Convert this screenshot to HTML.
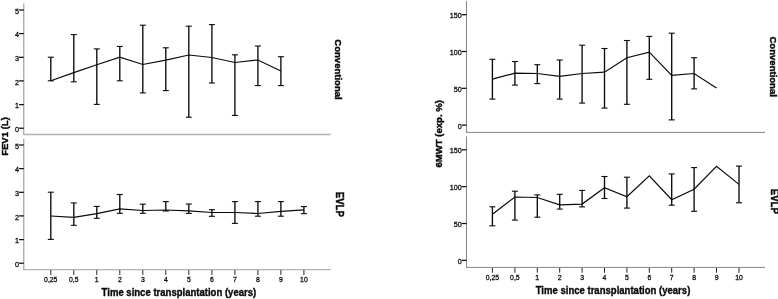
<!DOCTYPE html>
<html><head><meta charset="utf-8"><title>Figure</title>
<style>
html,body{margin:0;padding:0;background:#fff;}
body{width:778px;height:299px;overflow:hidden;font-family:"Liberation Sans",sans-serif;}
svg{display:block;will-change:transform;filter:grayscale(1);font-family:"Liberation Sans",sans-serif;}
</style></head><body>
<svg width="778" height="299" viewBox="0 0 778 299">
<rect width="778" height="299" fill="#fff"/>
<line x1="23.8" y1="3.5" x2="23.8" y2="134.5" stroke="#909090" stroke-width="1.0" />
<line x1="23.3" y1="134.5" x2="330.6" y2="134.5" stroke="#b2b2b2" stroke-width="1.3" />
<line x1="23.8" y1="138.7" x2="23.8" y2="269.6" stroke="#909090" stroke-width="1.0" />
<line x1="23.3" y1="269.6" x2="330.6" y2="269.6" stroke="#b2b2b2" stroke-width="1.3" />
<line x1="19.1" y1="128.2" x2="23.8" y2="128.2" stroke="#0a0a0a" stroke-width="1.25" />
<text transform="translate(19.1 131.9) scale(0.91 1.0)" font-size="7.9" text-anchor="end" stroke="#0a0a0a" stroke-width="0.3" fill="#0a0a0a">0</text>
<line x1="19.1" y1="263.2" x2="23.8" y2="263.2" stroke="#0a0a0a" stroke-width="1.25" />
<text transform="translate(19.1 266.9) scale(0.91 1.0)" font-size="7.9" text-anchor="end" stroke="#0a0a0a" stroke-width="0.3" fill="#0a0a0a">0</text>
<line x1="19.1" y1="104.6" x2="23.8" y2="104.6" stroke="#0a0a0a" stroke-width="1.25" />
<text transform="translate(19.1 108.26) scale(0.91 1.0)" font-size="7.9" text-anchor="end" stroke="#0a0a0a" stroke-width="0.3" fill="#0a0a0a">1</text>
<line x1="19.1" y1="239.6" x2="23.8" y2="239.6" stroke="#0a0a0a" stroke-width="1.25" />
<text transform="translate(19.1 243.26) scale(0.91 1.0)" font-size="7.9" text-anchor="end" stroke="#0a0a0a" stroke-width="0.3" fill="#0a0a0a">1</text>
<line x1="19.1" y1="80.9" x2="23.8" y2="80.9" stroke="#0a0a0a" stroke-width="1.25" />
<text transform="translate(19.1 84.62) scale(0.91 1.0)" font-size="7.9" text-anchor="end" stroke="#0a0a0a" stroke-width="0.3" fill="#0a0a0a">2</text>
<line x1="19.1" y1="215.9" x2="23.8" y2="215.9" stroke="#0a0a0a" stroke-width="1.25" />
<text transform="translate(19.1 219.62) scale(0.91 1.0)" font-size="7.9" text-anchor="end" stroke="#0a0a0a" stroke-width="0.3" fill="#0a0a0a">2</text>
<line x1="19.1" y1="57.3" x2="23.8" y2="57.3" stroke="#0a0a0a" stroke-width="1.25" />
<text transform="translate(19.1 60.98) scale(0.91 1.0)" font-size="7.9" text-anchor="end" stroke="#0a0a0a" stroke-width="0.3" fill="#0a0a0a">3</text>
<line x1="19.1" y1="192.3" x2="23.8" y2="192.3" stroke="#0a0a0a" stroke-width="1.25" />
<text transform="translate(19.1 195.98) scale(0.91 1.0)" font-size="7.9" text-anchor="end" stroke="#0a0a0a" stroke-width="0.3" fill="#0a0a0a">3</text>
<line x1="19.1" y1="33.6" x2="23.8" y2="33.6" stroke="#0a0a0a" stroke-width="1.25" />
<text transform="translate(19.1 37.34) scale(0.91 1.0)" font-size="7.9" text-anchor="end" stroke="#0a0a0a" stroke-width="0.3" fill="#0a0a0a">4</text>
<line x1="19.1" y1="168.6" x2="23.8" y2="168.6" stroke="#0a0a0a" stroke-width="1.25" />
<text transform="translate(19.1 172.34) scale(0.91 1.0)" font-size="7.9" text-anchor="end" stroke="#0a0a0a" stroke-width="0.3" fill="#0a0a0a">4</text>
<line x1="19.1" y1="10" x2="23.8" y2="10" stroke="#0a0a0a" stroke-width="1.25" />
<text transform="translate(19.1 13.7) scale(0.91 1.0)" font-size="7.9" text-anchor="end" stroke="#0a0a0a" stroke-width="0.3" fill="#0a0a0a">5</text>
<line x1="19.1" y1="145" x2="23.8" y2="145" stroke="#0a0a0a" stroke-width="1.25" />
<text transform="translate(19.1 148.7) scale(0.91 1.0)" font-size="7.9" text-anchor="end" stroke="#0a0a0a" stroke-width="0.3" fill="#0a0a0a">5</text>
<line x1="50.8" y1="270.1" x2="50.8" y2="274.9" stroke="#0a0a0a" stroke-width="0.9" />
<text transform="translate(50.75 282.4) scale(0.87 1.0)" font-size="7.9" text-anchor="middle" stroke="#0a0a0a" stroke-width="0.3" fill="#0a0a0a">0,25</text>
<line x1="73.8" y1="270.1" x2="73.8" y2="274.9" stroke="#0a0a0a" stroke-width="0.9" />
<text transform="translate(73.77 282.4) scale(0.87 1.0)" font-size="7.9" text-anchor="middle" stroke="#0a0a0a" stroke-width="0.3" fill="#0a0a0a">0,5</text>
<line x1="96.8" y1="270.1" x2="96.8" y2="274.9" stroke="#0a0a0a" stroke-width="0.9" />
<text transform="translate(96.78 282.4) scale(0.87 1.0)" font-size="7.9" text-anchor="middle" stroke="#0a0a0a" stroke-width="0.3" fill="#0a0a0a">1</text>
<line x1="119.8" y1="270.1" x2="119.8" y2="274.9" stroke="#0a0a0a" stroke-width="0.9" />
<text transform="translate(119.8 282.4) scale(0.87 1.0)" font-size="7.9" text-anchor="middle" stroke="#0a0a0a" stroke-width="0.3" fill="#0a0a0a">2</text>
<line x1="142.8" y1="270.1" x2="142.8" y2="274.9" stroke="#0a0a0a" stroke-width="0.9" />
<text transform="translate(142.81 282.4) scale(0.87 1.0)" font-size="7.9" text-anchor="middle" stroke="#0a0a0a" stroke-width="0.3" fill="#0a0a0a">3</text>
<line x1="165.8" y1="270.1" x2="165.8" y2="274.9" stroke="#0a0a0a" stroke-width="0.9" />
<text transform="translate(165.82 282.4) scale(0.87 1.0)" font-size="7.9" text-anchor="middle" stroke="#0a0a0a" stroke-width="0.3" fill="#0a0a0a">4</text>
<line x1="188.8" y1="270.1" x2="188.8" y2="274.9" stroke="#0a0a0a" stroke-width="0.9" />
<text transform="translate(188.84 282.4) scale(0.87 1.0)" font-size="7.9" text-anchor="middle" stroke="#0a0a0a" stroke-width="0.3" fill="#0a0a0a">5</text>
<line x1="211.9" y1="270.1" x2="211.9" y2="274.9" stroke="#0a0a0a" stroke-width="0.9" />
<text transform="translate(211.86 282.4) scale(0.87 1.0)" font-size="7.9" text-anchor="middle" stroke="#0a0a0a" stroke-width="0.3" fill="#0a0a0a">6</text>
<line x1="234.9" y1="270.1" x2="234.9" y2="274.9" stroke="#0a0a0a" stroke-width="0.9" />
<text transform="translate(234.87 282.4) scale(0.87 1.0)" font-size="7.9" text-anchor="middle" stroke="#0a0a0a" stroke-width="0.3" fill="#0a0a0a">7</text>
<line x1="257.9" y1="270.1" x2="257.9" y2="274.9" stroke="#0a0a0a" stroke-width="0.9" />
<text transform="translate(257.88 282.4) scale(0.87 1.0)" font-size="7.9" text-anchor="middle" stroke="#0a0a0a" stroke-width="0.3" fill="#0a0a0a">8</text>
<line x1="280.9" y1="270.1" x2="280.9" y2="274.9" stroke="#0a0a0a" stroke-width="0.9" />
<text transform="translate(280.9 282.4) scale(0.87 1.0)" font-size="7.9" text-anchor="middle" stroke="#0a0a0a" stroke-width="0.3" fill="#0a0a0a">9</text>
<line x1="303.9" y1="270.1" x2="303.9" y2="274.9" stroke="#0a0a0a" stroke-width="0.9" />
<text transform="translate(303.92 282.4) scale(0.87 1.0)" font-size="7.9" text-anchor="middle" stroke="#0a0a0a" stroke-width="0.3" fill="#0a0a0a">10</text>
<text transform="translate(178.9 295.8) scale(0.955 1.0)" font-size="10.0" text-anchor="middle" font-weight="bold" stroke="#0a0a0a" stroke-width="0.35" fill="#0a0a0a">Time since transplantation (years)</text>
<text transform="translate(8.4 136.5) rotate(-90) scale(0.955 0.95)" font-size="10.0" text-anchor="middle" font-weight="bold" stroke="#0a0a0a" stroke-width="0.45" fill="#0a0a0a">FEV1 (L)</text>
<text transform="translate(335.4 69.5) rotate(90) scale(0.955 0.95)" font-size="10.0" text-anchor="middle" font-weight="bold" stroke="#0a0a0a" stroke-width="0.45" fill="#0a0a0a">Conventional</text>
<text transform="translate(336.3 204.3) rotate(90) scale(0.965 1.0)" font-size="10.0" text-anchor="middle" font-weight="bold" stroke="#0a0a0a" stroke-width="0.45" fill="#0a0a0a">EVLP</text>
<line x1="50.8" y1="57.2" x2="50.8" y2="80.8" stroke="#0a0a0a" stroke-width="1.35" />
<line x1="47.8" y1="57.2" x2="53.8" y2="57.2" stroke="#0a0a0a" stroke-width="1.1" />
<line x1="47.8" y1="80.8" x2="53.8" y2="80.8" stroke="#0a0a0a" stroke-width="1.1" />
<line x1="73.8" y1="34.6" x2="73.8" y2="81.8" stroke="#0a0a0a" stroke-width="1.35" />
<line x1="70.8" y1="34.6" x2="76.8" y2="34.6" stroke="#0a0a0a" stroke-width="1.1" />
<line x1="70.8" y1="81.8" x2="76.8" y2="81.8" stroke="#0a0a0a" stroke-width="1.1" />
<line x1="96.8" y1="48.9" x2="96.8" y2="104.4" stroke="#0a0a0a" stroke-width="1.35" />
<line x1="93.8" y1="48.9" x2="99.8" y2="48.9" stroke="#0a0a0a" stroke-width="1.1" />
<line x1="93.8" y1="104.4" x2="99.8" y2="104.4" stroke="#0a0a0a" stroke-width="1.1" />
<line x1="119.8" y1="46.4" x2="119.8" y2="80.8" stroke="#0a0a0a" stroke-width="1.35" />
<line x1="116.8" y1="46.4" x2="122.8" y2="46.4" stroke="#0a0a0a" stroke-width="1.1" />
<line x1="116.8" y1="80.8" x2="122.8" y2="80.8" stroke="#0a0a0a" stroke-width="1.1" />
<line x1="142.8" y1="25.2" x2="142.8" y2="92.9" stroke="#0a0a0a" stroke-width="1.35" />
<line x1="139.8" y1="25.2" x2="145.8" y2="25.2" stroke="#0a0a0a" stroke-width="1.1" />
<line x1="139.8" y1="92.9" x2="145.8" y2="92.9" stroke="#0a0a0a" stroke-width="1.1" />
<line x1="165.8" y1="47.8" x2="165.8" y2="90.6" stroke="#0a0a0a" stroke-width="1.35" />
<line x1="162.8" y1="47.8" x2="168.8" y2="47.8" stroke="#0a0a0a" stroke-width="1.1" />
<line x1="162.8" y1="90.6" x2="168.8" y2="90.6" stroke="#0a0a0a" stroke-width="1.1" />
<line x1="188.8" y1="26.2" x2="188.8" y2="117.2" stroke="#0a0a0a" stroke-width="1.35" />
<line x1="185.8" y1="26.2" x2="191.8" y2="26.2" stroke="#0a0a0a" stroke-width="1.1" />
<line x1="185.8" y1="117.2" x2="191.8" y2="117.2" stroke="#0a0a0a" stroke-width="1.1" />
<line x1="211.9" y1="24.6" x2="211.9" y2="83" stroke="#0a0a0a" stroke-width="1.35" />
<line x1="208.9" y1="24.6" x2="214.9" y2="24.6" stroke="#0a0a0a" stroke-width="1.1" />
<line x1="208.9" y1="83" x2="214.9" y2="83" stroke="#0a0a0a" stroke-width="1.1" />
<line x1="234.9" y1="54.8" x2="234.9" y2="115.4" stroke="#0a0a0a" stroke-width="1.35" />
<line x1="231.9" y1="54.8" x2="237.9" y2="54.8" stroke="#0a0a0a" stroke-width="1.1" />
<line x1="231.9" y1="115.4" x2="237.9" y2="115.4" stroke="#0a0a0a" stroke-width="1.1" />
<line x1="257.9" y1="46" x2="257.9" y2="85.6" stroke="#0a0a0a" stroke-width="1.35" />
<line x1="254.9" y1="46" x2="260.9" y2="46" stroke="#0a0a0a" stroke-width="1.1" />
<line x1="254.9" y1="85.6" x2="260.9" y2="85.6" stroke="#0a0a0a" stroke-width="1.1" />
<line x1="280.9" y1="56.7" x2="280.9" y2="85.6" stroke="#0a0a0a" stroke-width="1.35" />
<line x1="277.9" y1="56.7" x2="283.9" y2="56.7" stroke="#0a0a0a" stroke-width="1.1" />
<line x1="277.9" y1="85.6" x2="283.9" y2="85.6" stroke="#0a0a0a" stroke-width="1.1" />
<polyline points="50.8,80.8 73.8,72.6 96.8,64.7 119.8,57.2 142.8,64.5 165.8,60.2 188.8,55 211.9,57.5 234.9,62.5 257.9,60 280.9,71" fill="none" stroke="#0a0a0a" stroke-width="1.2" stroke-linejoin="miter"/>
<line x1="50.8" y1="192.2" x2="50.8" y2="239.4" stroke="#0a0a0a" stroke-width="1.35" />
<line x1="47.8" y1="192.2" x2="53.8" y2="192.2" stroke="#0a0a0a" stroke-width="1.1" />
<line x1="47.8" y1="239.4" x2="53.8" y2="239.4" stroke="#0a0a0a" stroke-width="1.1" />
<line x1="73.8" y1="202.9" x2="73.8" y2="225.3" stroke="#0a0a0a" stroke-width="1.35" />
<line x1="70.8" y1="202.9" x2="76.8" y2="202.9" stroke="#0a0a0a" stroke-width="1.1" />
<line x1="70.8" y1="225.3" x2="76.8" y2="225.3" stroke="#0a0a0a" stroke-width="1.1" />
<line x1="96.8" y1="206.4" x2="96.8" y2="218.3" stroke="#0a0a0a" stroke-width="1.35" />
<line x1="93.8" y1="206.4" x2="99.8" y2="206.4" stroke="#0a0a0a" stroke-width="1.1" />
<line x1="93.8" y1="218.3" x2="99.8" y2="218.3" stroke="#0a0a0a" stroke-width="1.1" />
<line x1="119.8" y1="194.5" x2="119.8" y2="213.3" stroke="#0a0a0a" stroke-width="1.35" />
<line x1="116.8" y1="194.5" x2="122.8" y2="194.5" stroke="#0a0a0a" stroke-width="1.1" />
<line x1="116.8" y1="213.3" x2="122.8" y2="213.3" stroke="#0a0a0a" stroke-width="1.1" />
<line x1="142.8" y1="204.2" x2="142.8" y2="213.3" stroke="#0a0a0a" stroke-width="1.35" />
<line x1="139.8" y1="204.2" x2="145.8" y2="204.2" stroke="#0a0a0a" stroke-width="1.1" />
<line x1="139.8" y1="213.3" x2="145.8" y2="213.3" stroke="#0a0a0a" stroke-width="1.1" />
<line x1="165.8" y1="201.6" x2="165.8" y2="211" stroke="#0a0a0a" stroke-width="1.35" />
<line x1="162.8" y1="201.6" x2="168.8" y2="201.6" stroke="#0a0a0a" stroke-width="1.1" />
<line x1="162.8" y1="211" x2="168.8" y2="211" stroke="#0a0a0a" stroke-width="1.1" />
<line x1="188.8" y1="204" x2="188.8" y2="213.4" stroke="#0a0a0a" stroke-width="1.35" />
<line x1="185.8" y1="204" x2="191.8" y2="204" stroke="#0a0a0a" stroke-width="1.1" />
<line x1="185.8" y1="213.4" x2="191.8" y2="213.4" stroke="#0a0a0a" stroke-width="1.1" />
<line x1="211.9" y1="209.7" x2="211.9" y2="216.3" stroke="#0a0a0a" stroke-width="1.35" />
<line x1="208.9" y1="209.7" x2="214.9" y2="209.7" stroke="#0a0a0a" stroke-width="1.1" />
<line x1="208.9" y1="216.3" x2="214.9" y2="216.3" stroke="#0a0a0a" stroke-width="1.1" />
<line x1="234.9" y1="201.6" x2="234.9" y2="223.4" stroke="#0a0a0a" stroke-width="1.35" />
<line x1="231.9" y1="201.6" x2="237.9" y2="201.6" stroke="#0a0a0a" stroke-width="1.1" />
<line x1="231.9" y1="223.4" x2="237.9" y2="223.4" stroke="#0a0a0a" stroke-width="1.1" />
<line x1="257.9" y1="201.6" x2="257.9" y2="216.2" stroke="#0a0a0a" stroke-width="1.35" />
<line x1="254.9" y1="201.6" x2="260.9" y2="201.6" stroke="#0a0a0a" stroke-width="1.1" />
<line x1="254.9" y1="216.2" x2="260.9" y2="216.2" stroke="#0a0a0a" stroke-width="1.1" />
<line x1="280.9" y1="201.6" x2="280.9" y2="216.2" stroke="#0a0a0a" stroke-width="1.35" />
<line x1="277.9" y1="201.6" x2="283.9" y2="201.6" stroke="#0a0a0a" stroke-width="1.1" />
<line x1="277.9" y1="216.2" x2="283.9" y2="216.2" stroke="#0a0a0a" stroke-width="1.1" />
<line x1="303.9" y1="206.6" x2="303.9" y2="213.6" stroke="#0a0a0a" stroke-width="1.35" />
<line x1="300.9" y1="206.6" x2="306.9" y2="206.6" stroke="#0a0a0a" stroke-width="1.1" />
<line x1="300.9" y1="213.6" x2="306.9" y2="213.6" stroke="#0a0a0a" stroke-width="1.1" />
<polyline points="50.8,216 73.8,217.3 96.8,213.6 119.8,208.8 142.8,210.5 165.8,210 188.8,210.9 211.9,212.5 234.9,212.5 257.9,213.5 280.9,211.4 303.9,209.9" fill="none" stroke="#0a0a0a" stroke-width="1.2" stroke-linejoin="miter"/>
<line x1="466.5" y1="1" x2="466.5" y2="132.4" stroke="#858585" stroke-width="1.0" />
<line x1="466" y1="132.4" x2="765" y2="132.4" stroke="#858585" stroke-width="1.0" />
<line x1="466.5" y1="136.4" x2="466.5" y2="267.4" stroke="#858585" stroke-width="1.0" />
<line x1="466" y1="267.4" x2="765" y2="267.4" stroke="#858585" stroke-width="1.0" />
<line x1="461.8" y1="125.1" x2="466.5" y2="125.1" stroke="#0a0a0a" stroke-width="1.25" />
<text transform="translate(461.8 128.8) scale(0.91 1.0)" font-size="7.9" text-anchor="end" stroke="#0a0a0a" stroke-width="0.3" fill="#0a0a0a">0</text>
<line x1="461.8" y1="260.3" x2="466.5" y2="260.3" stroke="#0a0a0a" stroke-width="1.25" />
<text transform="translate(461.8 264) scale(0.91 1.0)" font-size="7.9" text-anchor="end" stroke="#0a0a0a" stroke-width="0.3" fill="#0a0a0a">0</text>
<line x1="461.8" y1="88.3" x2="466.5" y2="88.3" stroke="#0a0a0a" stroke-width="1.25" />
<text transform="translate(461.8 92) scale(0.91 1.0)" font-size="7.9" text-anchor="end" stroke="#0a0a0a" stroke-width="0.3" fill="#0a0a0a">50</text>
<line x1="461.8" y1="223.5" x2="466.5" y2="223.5" stroke="#0a0a0a" stroke-width="1.25" />
<text transform="translate(461.8 227.15) scale(0.91 1.0)" font-size="7.9" text-anchor="end" stroke="#0a0a0a" stroke-width="0.3" fill="#0a0a0a">50</text>
<line x1="461.8" y1="51.5" x2="466.5" y2="51.5" stroke="#0a0a0a" stroke-width="1.25" />
<text transform="translate(461.8 55.2) scale(0.91 1.0)" font-size="7.9" text-anchor="end" stroke="#0a0a0a" stroke-width="0.3" fill="#0a0a0a">100</text>
<line x1="461.8" y1="186.6" x2="466.5" y2="186.6" stroke="#0a0a0a" stroke-width="1.25" />
<text transform="translate(461.8 190.3) scale(0.91 1.0)" font-size="7.9" text-anchor="end" stroke="#0a0a0a" stroke-width="0.3" fill="#0a0a0a">100</text>
<line x1="461.8" y1="14.7" x2="466.5" y2="14.7" stroke="#0a0a0a" stroke-width="1.25" />
<text transform="translate(461.8 18.4) scale(0.91 1.0)" font-size="7.9" text-anchor="end" stroke="#0a0a0a" stroke-width="0.3" fill="#0a0a0a">150</text>
<line x1="461.8" y1="149.8" x2="466.5" y2="149.8" stroke="#0a0a0a" stroke-width="1.25" />
<text transform="translate(461.8 153.45) scale(0.91 1.0)" font-size="7.9" text-anchor="end" stroke="#0a0a0a" stroke-width="0.3" fill="#0a0a0a">150</text>
<line x1="492.4" y1="267.9" x2="492.4" y2="272.7" stroke="#0a0a0a" stroke-width="0.9" />
<text transform="translate(492.45 280.2) scale(0.87 1.0)" font-size="7.9" text-anchor="middle" stroke="#0a0a0a" stroke-width="0.3" fill="#0a0a0a">0,25</text>
<line x1="514.9" y1="267.9" x2="514.9" y2="272.7" stroke="#0a0a0a" stroke-width="0.9" />
<text transform="translate(514.86 280.2) scale(0.87 1.0)" font-size="7.9" text-anchor="middle" stroke="#0a0a0a" stroke-width="0.3" fill="#0a0a0a">0,5</text>
<line x1="537.3" y1="267.9" x2="537.3" y2="272.7" stroke="#0a0a0a" stroke-width="0.9" />
<text transform="translate(537.27 280.2) scale(0.87 1.0)" font-size="7.9" text-anchor="middle" stroke="#0a0a0a" stroke-width="0.3" fill="#0a0a0a">1</text>
<line x1="559.7" y1="267.9" x2="559.7" y2="272.7" stroke="#0a0a0a" stroke-width="0.9" />
<text transform="translate(559.68 280.2) scale(0.87 1.0)" font-size="7.9" text-anchor="middle" stroke="#0a0a0a" stroke-width="0.3" fill="#0a0a0a">2</text>
<line x1="582.1" y1="267.9" x2="582.1" y2="272.7" stroke="#0a0a0a" stroke-width="0.9" />
<text transform="translate(582.09 280.2) scale(0.87 1.0)" font-size="7.9" text-anchor="middle" stroke="#0a0a0a" stroke-width="0.3" fill="#0a0a0a">3</text>
<line x1="604.5" y1="267.9" x2="604.5" y2="272.7" stroke="#0a0a0a" stroke-width="0.9" />
<text transform="translate(604.5 280.2) scale(0.87 1.0)" font-size="7.9" text-anchor="middle" stroke="#0a0a0a" stroke-width="0.3" fill="#0a0a0a">4</text>
<line x1="626.9" y1="267.9" x2="626.9" y2="272.7" stroke="#0a0a0a" stroke-width="0.9" />
<text transform="translate(626.91 280.2) scale(0.87 1.0)" font-size="7.9" text-anchor="middle" stroke="#0a0a0a" stroke-width="0.3" fill="#0a0a0a">5</text>
<line x1="649.3" y1="267.9" x2="649.3" y2="272.7" stroke="#0a0a0a" stroke-width="0.9" />
<text transform="translate(649.32 280.2) scale(0.87 1.0)" font-size="7.9" text-anchor="middle" stroke="#0a0a0a" stroke-width="0.3" fill="#0a0a0a">6</text>
<line x1="671.7" y1="267.9" x2="671.7" y2="272.7" stroke="#0a0a0a" stroke-width="0.9" />
<text transform="translate(671.73 280.2) scale(0.87 1.0)" font-size="7.9" text-anchor="middle" stroke="#0a0a0a" stroke-width="0.3" fill="#0a0a0a">7</text>
<line x1="694.1" y1="267.9" x2="694.1" y2="272.7" stroke="#0a0a0a" stroke-width="0.9" />
<text transform="translate(694.14 280.2) scale(0.87 1.0)" font-size="7.9" text-anchor="middle" stroke="#0a0a0a" stroke-width="0.3" fill="#0a0a0a">8</text>
<line x1="716.5" y1="267.9" x2="716.5" y2="272.7" stroke="#0a0a0a" stroke-width="0.9" />
<text transform="translate(716.55 280.2) scale(0.87 1.0)" font-size="7.9" text-anchor="middle" stroke="#0a0a0a" stroke-width="0.3" fill="#0a0a0a">9</text>
<line x1="739" y1="267.9" x2="739" y2="272.7" stroke="#0a0a0a" stroke-width="0.9" />
<text transform="translate(738.96 280.2) scale(0.87 1.0)" font-size="7.9" text-anchor="middle" stroke="#0a0a0a" stroke-width="0.3" fill="#0a0a0a">10</text>
<text transform="translate(613 293.6) scale(0.955 1.0)" font-size="10.0" text-anchor="middle" font-weight="bold" stroke="#0a0a0a" stroke-width="0.35" fill="#0a0a0a">Time since transplantation (years)</text>
<text transform="translate(441.6 133.8) rotate(-90) scale(0.955 0.95)" font-size="10.0" text-anchor="middle" font-weight="bold" stroke="#0a0a0a" stroke-width="0.45" fill="#0a0a0a">6MWT (exp. %)</text>
<text transform="translate(770.4 66.7) rotate(90) scale(0.955 0.95)" font-size="10.0" text-anchor="middle" font-weight="bold" stroke="#0a0a0a" stroke-width="0.45" fill="#0a0a0a">Conventional</text>
<text transform="translate(770.5 201.3) rotate(90) scale(0.965 1.0)" font-size="10.0" text-anchor="middle" font-weight="bold" stroke="#0a0a0a" stroke-width="0.45" fill="#0a0a0a">EVLP</text>
<line x1="492.4" y1="59.3" x2="492.4" y2="99.1" stroke="#0a0a0a" stroke-width="1.35" />
<line x1="489.4" y1="59.3" x2="495.4" y2="59.3" stroke="#0a0a0a" stroke-width="1.1" />
<line x1="489.4" y1="99.1" x2="495.4" y2="99.1" stroke="#0a0a0a" stroke-width="1.1" />
<line x1="514.9" y1="61.5" x2="514.9" y2="85.1" stroke="#0a0a0a" stroke-width="1.35" />
<line x1="511.9" y1="61.5" x2="517.9" y2="61.5" stroke="#0a0a0a" stroke-width="1.1" />
<line x1="511.9" y1="85.1" x2="517.9" y2="85.1" stroke="#0a0a0a" stroke-width="1.1" />
<line x1="537.3" y1="64.7" x2="537.3" y2="83.6" stroke="#0a0a0a" stroke-width="1.35" />
<line x1="534.3" y1="64.7" x2="540.3" y2="64.7" stroke="#0a0a0a" stroke-width="1.1" />
<line x1="534.3" y1="83.6" x2="540.3" y2="83.6" stroke="#0a0a0a" stroke-width="1.1" />
<line x1="559.7" y1="60" x2="559.7" y2="99.1" stroke="#0a0a0a" stroke-width="1.35" />
<line x1="556.7" y1="60" x2="562.7" y2="60" stroke="#0a0a0a" stroke-width="1.1" />
<line x1="556.7" y1="99.1" x2="562.7" y2="99.1" stroke="#0a0a0a" stroke-width="1.1" />
<line x1="582.1" y1="45.2" x2="582.1" y2="103.1" stroke="#0a0a0a" stroke-width="1.35" />
<line x1="579.1" y1="45.2" x2="585.1" y2="45.2" stroke="#0a0a0a" stroke-width="1.1" />
<line x1="579.1" y1="103.1" x2="585.1" y2="103.1" stroke="#0a0a0a" stroke-width="1.1" />
<line x1="604.5" y1="48.5" x2="604.5" y2="108.1" stroke="#0a0a0a" stroke-width="1.35" />
<line x1="601.5" y1="48.5" x2="607.5" y2="48.5" stroke="#0a0a0a" stroke-width="1.1" />
<line x1="601.5" y1="108.1" x2="607.5" y2="108.1" stroke="#0a0a0a" stroke-width="1.1" />
<line x1="626.9" y1="40.5" x2="626.9" y2="104.3" stroke="#0a0a0a" stroke-width="1.35" />
<line x1="623.9" y1="40.5" x2="629.9" y2="40.5" stroke="#0a0a0a" stroke-width="1.1" />
<line x1="623.9" y1="104.3" x2="629.9" y2="104.3" stroke="#0a0a0a" stroke-width="1.1" />
<line x1="649.3" y1="36.4" x2="649.3" y2="79.3" stroke="#0a0a0a" stroke-width="1.35" />
<line x1="646.3" y1="36.4" x2="652.3" y2="36.4" stroke="#0a0a0a" stroke-width="1.1" />
<line x1="646.3" y1="79.3" x2="652.3" y2="79.3" stroke="#0a0a0a" stroke-width="1.1" />
<line x1="671.7" y1="33.2" x2="671.7" y2="119.9" stroke="#0a0a0a" stroke-width="1.35" />
<line x1="668.7" y1="33.2" x2="674.7" y2="33.2" stroke="#0a0a0a" stroke-width="1.1" />
<line x1="668.7" y1="119.9" x2="674.7" y2="119.9" stroke="#0a0a0a" stroke-width="1.1" />
<line x1="694.1" y1="57.7" x2="694.1" y2="88.9" stroke="#0a0a0a" stroke-width="1.35" />
<line x1="691.1" y1="57.7" x2="697.1" y2="57.7" stroke="#0a0a0a" stroke-width="1.1" />
<line x1="691.1" y1="88.9" x2="697.1" y2="88.9" stroke="#0a0a0a" stroke-width="1.1" />
<polyline points="492.4,79.1 514.9,73.2 537.3,73.5 559.7,76.3 582.1,73.5 604.5,72.2 626.9,57.7 649.3,52.2 671.7,75.3 694.1,73.5 716.5,88.1" fill="none" stroke="#0a0a0a" stroke-width="1.2" stroke-linejoin="miter"/>
<line x1="492.4" y1="206.8" x2="492.4" y2="225.8" stroke="#0a0a0a" stroke-width="1.35" />
<line x1="489.4" y1="206.8" x2="495.4" y2="206.8" stroke="#0a0a0a" stroke-width="1.1" />
<line x1="489.4" y1="225.8" x2="495.4" y2="225.8" stroke="#0a0a0a" stroke-width="1.1" />
<line x1="514.9" y1="191.2" x2="514.9" y2="220.1" stroke="#0a0a0a" stroke-width="1.35" />
<line x1="511.9" y1="191.2" x2="517.9" y2="191.2" stroke="#0a0a0a" stroke-width="1.1" />
<line x1="511.9" y1="220.1" x2="517.9" y2="220.1" stroke="#0a0a0a" stroke-width="1.1" />
<line x1="537.3" y1="194.9" x2="537.3" y2="217.2" stroke="#0a0a0a" stroke-width="1.35" />
<line x1="534.3" y1="194.9" x2="540.3" y2="194.9" stroke="#0a0a0a" stroke-width="1.1" />
<line x1="534.3" y1="217.2" x2="540.3" y2="217.2" stroke="#0a0a0a" stroke-width="1.1" />
<line x1="559.7" y1="194.3" x2="559.7" y2="209.1" stroke="#0a0a0a" stroke-width="1.35" />
<line x1="556.7" y1="194.3" x2="562.7" y2="194.3" stroke="#0a0a0a" stroke-width="1.1" />
<line x1="556.7" y1="209.1" x2="562.7" y2="209.1" stroke="#0a0a0a" stroke-width="1.1" />
<line x1="582.1" y1="190.4" x2="582.1" y2="206.9" stroke="#0a0a0a" stroke-width="1.35" />
<line x1="579.1" y1="190.4" x2="585.1" y2="190.4" stroke="#0a0a0a" stroke-width="1.1" />
<line x1="579.1" y1="206.9" x2="585.1" y2="206.9" stroke="#0a0a0a" stroke-width="1.1" />
<line x1="604.5" y1="176.5" x2="604.5" y2="198.5" stroke="#0a0a0a" stroke-width="1.35" />
<line x1="601.5" y1="176.5" x2="607.5" y2="176.5" stroke="#0a0a0a" stroke-width="1.1" />
<line x1="601.5" y1="198.5" x2="607.5" y2="198.5" stroke="#0a0a0a" stroke-width="1.1" />
<line x1="626.9" y1="177.2" x2="626.9" y2="208.1" stroke="#0a0a0a" stroke-width="1.35" />
<line x1="623.9" y1="177.2" x2="629.9" y2="177.2" stroke="#0a0a0a" stroke-width="1.1" />
<line x1="623.9" y1="208.1" x2="629.9" y2="208.1" stroke="#0a0a0a" stroke-width="1.1" />
<line x1="671.7" y1="173.9" x2="671.7" y2="205.2" stroke="#0a0a0a" stroke-width="1.35" />
<line x1="668.7" y1="173.9" x2="674.7" y2="173.9" stroke="#0a0a0a" stroke-width="1.1" />
<line x1="668.7" y1="205.2" x2="674.7" y2="205.2" stroke="#0a0a0a" stroke-width="1.1" />
<line x1="694.1" y1="167.6" x2="694.1" y2="211.3" stroke="#0a0a0a" stroke-width="1.35" />
<line x1="691.1" y1="167.6" x2="697.1" y2="167.6" stroke="#0a0a0a" stroke-width="1.1" />
<line x1="691.1" y1="211.3" x2="697.1" y2="211.3" stroke="#0a0a0a" stroke-width="1.1" />
<line x1="739" y1="166.1" x2="739" y2="202.8" stroke="#0a0a0a" stroke-width="1.35" />
<line x1="736" y1="166.1" x2="742" y2="166.1" stroke="#0a0a0a" stroke-width="1.1" />
<line x1="736" y1="202.8" x2="742" y2="202.8" stroke="#0a0a0a" stroke-width="1.1" />
<polyline points="492.4,214.3 514.9,197 537.3,197.5 559.7,204.8 582.1,204.1 604.5,187.8 626.9,196.8 649.3,175.9 671.7,199.7 694.1,189.2 716.5,166.3 739,184.4" fill="none" stroke="#0a0a0a" stroke-width="1.2" stroke-linejoin="miter"/>
</svg>
</body></html>
